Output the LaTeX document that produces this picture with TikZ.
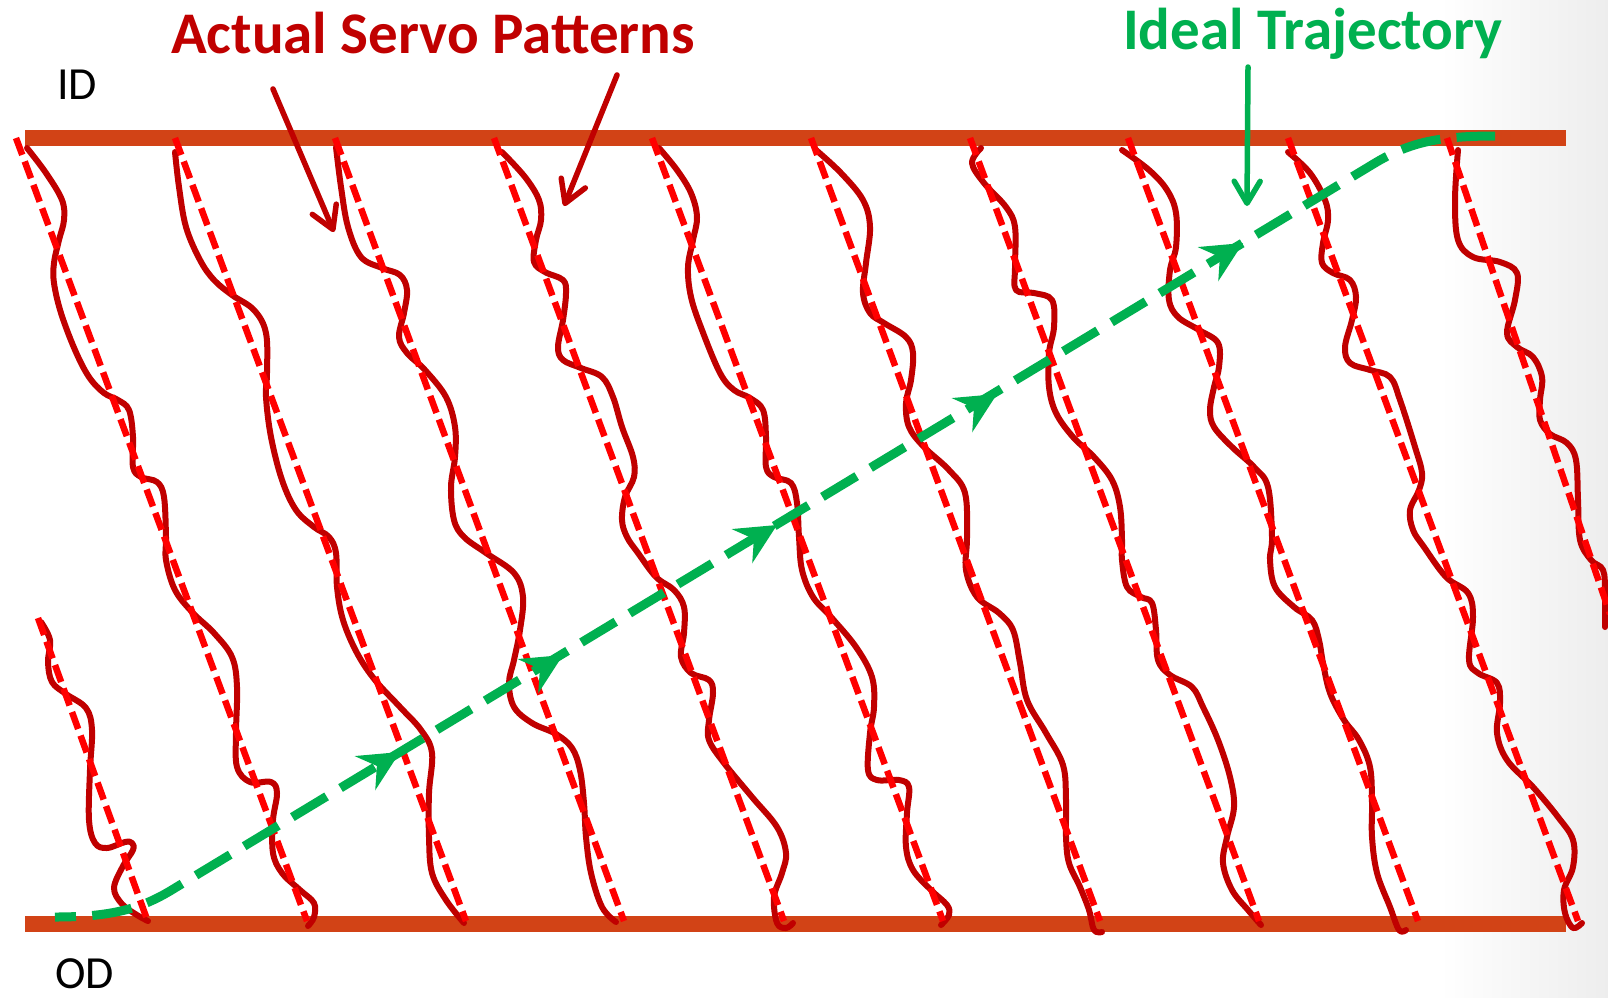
\documentclass[tikz,border=0pt]{standalone}
\usepackage{fontspec}
\setmainfont{Carlito}
\usetikzlibrary{arrows.meta,calc}
\definecolor{barc}{RGB}{210,67,22}
\definecolor{wavec}{RGB}{192,0,0}
\definecolor{dashc}{RGB}{255,0,0}
\definecolor{trajc}{RGB}{0,176,80}
\begin{document}
\begin{tikzpicture}[x=1pt,y=-1pt,
  guide/.style={draw=dashc, line width=6.5pt, dash pattern=on 18pt off 7pt},
  wavy/.style={draw=wavec, line width=6pt, line cap=round, line join=round},
  traj/.style={draw=trajc, line width=9pt, dash pattern=on 40pt off 16.3pt, dash phase=19pt},
  callout/.style={line width=5.5pt, line cap=round, -{Straight Barb[length=22pt,width=26pt,round]}},
  lbl/.style={anchor=base west, inner sep=0pt, text depth=0pt}
]
\useasboundingbox (0,0) rectangle (1608,997);
\fill[white] (0,0) rectangle (1608,997);
\shade[left color=white, right color=black!7] (1440,0) rectangle (1608,997);
\begin{scope}
\clip (0,0) rectangle (1608,997);
% bars
\fill[barc] (25,130) rectangle (1566,146);
\fill[barc] (25,916) rectangle (1566,932);
% actual servo patterns (wavy)
\draw[wavy] plot[smooth, tension=0.6] coordinates {(41,622) (50,640) (48,662) (52,682) (66,694) (86,708) (92,730) (90,770) (89,820) (95,843) (107,848) (125,842) (132,843) (133,850) (123,866) (114,888) (122,904) (137,915) (148,921)};
\draw[wavy] plot[smooth, tension=0.6] coordinates {(27,148) (46,173) (62,200) (64,220) (59,240) (54,263) (54,283) (61,313) (75,350) (89,377) (104,393) (118,400) (129,410) (133,437) (133,467) (141,477) (157,482) (164,497) (166,537) (166,560) (175,590) (193,613) (214,633) (232,657) (237,687) (236,733) (237,767) (250,782) (271,782) (277,793) (273,820) (273,853) (282,873) (300,890) (314,903) (314,917) (308,926)};
\draw[wavy] plot[smooth, tension=0.6] coordinates {(175,152) (179,187) (186,227) (200,260) (214,280) (232,295) (254,310) (266,333) (267,373) (266,397) (271,437) (282,480) (296,510) (314,527) (329,537) (336,553) (337,587) (343,620) (357,653) (375,680) (400,707) (421,730) (432,753) (429,793) (429,837) (432,873) (446,900) (464,923)};
\draw[wavy] plot[smooth, tension=0.6] coordinates {(336,147) (341,187) (348,227) (361,257) (382,268) (400,275) (407,290) (404,313) (399,337) (407,353) (425,370) (446,397) (455,427) (455,457) (451,487) (454,520) (464,537) (486,553) (514,573) (523,597) (520,630) (514,660) (509,683) (514,707) (532,723) (556,734) (572,748) (580,770) (584,803) (586,837) (591,873) (602,907) (616,922)};
\draw[wavy] plot[smooth, tension=0.6] coordinates {(502,152) (525,177) (539,200) (541,220) (536,240) (534,262) (545,272) (563,280) (566,293) (563,320) (558,347) (563,360) (581,368) (602,377) (613,397) (622,427) (633,457) (634,477) (625,497) (622,520) (627,537) (638,553) (656,577) (674,590) (684,607) (684,633) (681,657) (691,673) (709,680) (713,693) (709,720) (709,740) (724,763) (752,797) (777,827) (786,853) (782,873) (774,897) (777,923) (786,928) (793,923)};
\draw[wavy] plot[smooth, tension=0.6] coordinates {(659,148) (677,170) (691,193) (697,217) (693,240) (688,267) (691,297) (702,330) (720,373) (734,390) (750,398) (763,410) (766,437) (766,467) (774,477) (791,483) (797,503) (799,537) (802,570) (813,597) (831,617) (856,647) (872,677) (874,707) (870,733) (868,770) (877,780) (899,780) (909,787) (907,813) (906,847) (913,870) (931,890) (947,905) (949,915) (941,925)};
\draw[wavy] plot[smooth, tension=0.6] coordinates {(816,150) (841,173) (863,200) (870,227) (866,263) (863,293) (870,313) (884,323) (906,337) (913,353) (911,380) (906,403) (909,427) (924,447) (949,470) (965,493) (967,537) (966,570) (977,597) (999,613) (1013,630) (1020,663) (1027,700) (1046,733) (1063,765) (1066,800) (1066,837) (1069,863) (1080,887) (1089,910) (1094,930) (1102,932)};
\draw[wavy] plot[smooth, tension=0.6] coordinates {(981,148) (972,163) (984,183) (1006,207) (1015,227) (1015,267) (1016,290) (1034,293) (1052,300) (1054,327) (1049,353) (1049,387) (1056,413) (1073,437) (1094,457) (1112,480) (1120,507) (1122,540) (1122,560) (1127,587) (1141,597) (1152,603) (1156,630) (1158,660) (1170,675) (1192,687) (1203,707) (1218,740) (1230,777) (1234,807) (1227,837) (1223,863) (1232,890) (1248,910) (1261,925)};
\draw[wavy] plot[smooth, tension=0.6] coordinates {(1122,150) (1149,170) (1167,190) (1176,213) (1176,247) (1170,270) (1169,300) (1178,317) (1199,330) (1218,343) (1219,367) (1214,387) (1210,410) (1214,427) (1232,447) (1254,467) (1268,487) (1272,537) (1270,560) (1275,587) (1294,607) (1312,620) (1319,640) (1323,663) (1330,693) (1344,720) (1359,740) (1370,767) (1372,803) (1372,837) (1377,873) (1390,907) (1399,930) (1406,930)};
\draw[wavy] plot[smooth, tension=0.6] coordinates {(1288,152) (1310,173) (1325,200) (1328,220) (1323,243) (1322,263) (1333,273) (1350,280) (1356,297) (1352,320) (1345,347) (1350,363) (1370,370) (1390,377) (1400,400) (1415,447) (1422,473) (1419,490) (1410,510) (1413,530) (1424,547) (1446,577) (1468,593) (1473,617) (1469,660) (1478,673) (1497,683) (1500,703) (1497,733) (1507,760) (1533,787) (1558,817) (1573,840) (1573,867) (1564,890) (1565,913) (1573,928) (1582,923)};
\draw[wavy] plot[smooth, tension=0.6] coordinates {(1458,150) (1455,200) (1458,240) (1473,257) (1500,262) (1517,273) (1515,300) (1507,333) (1517,347) (1533,357) (1542,377) (1540,400) (1540,420) (1550,434) (1567,443) (1576,460) (1578,500) (1580,540) (1591,560) (1603,570) (1605,593) (1605,627)};
% ideal straight patterns (dashed)
\coordinate (g0a) at (38,618);   \coordinate (g0b) at (148,922);
\coordinate (g1a) at (16,138);   \coordinate (g1b) at (307,921);
\coordinate (g2a) at (175,138);  \coordinate (g2b) at (466,921);
\coordinate (g3a) at (335,138);  \coordinate (g3b) at (624,921);
\coordinate (g4a) at (494,138);  \coordinate (g4b) at (784,921);
\coordinate (g5a) at (652,138);  \coordinate (g5b) at (943,921);
\coordinate (g6a) at (811,138);  \coordinate (g6b) at (1100,921);
\coordinate (g7a) at (970,138);  \coordinate (g7b) at (1259,921);
\coordinate (g8a) at (1128,138); \coordinate (g8b) at (1418,921);
\coordinate (g9a) at (1288,138); \coordinate (g9b) at (1578,921);
\coordinate (g10a) at (1447,138); \coordinate (g10b) at (1610,614);
\foreach \i in {0,...,10} \draw[guide] (g\i a) -- (g\i b);
% ideal trajectory
\coordinate (ts) at (55,917);
\coordinate (te) at (1495,136);
\draw[traj] (ts) .. controls (110,917) and (140,909) .. (170,891) -- (1375,163) .. controls (1410,142) and (1440,136) .. (te);
\foreach \t in {(400,752),(563,655),(777,525),(997,394),(1243,243)}
  \fill[trajc, shift={\t}, rotate=31.1] (0,0) -- (-41,-20) -- (-27,0) -- (-41,20) -- cycle;
\end{scope}
% labels
\node[lbl, font=\bfseries\fontsize{59}{64}\selectfont, text=wavec] (asp) at (171,53) {Actual Servo Patterns};
\node[lbl, font=\bfseries\fontsize{59}{64}\selectfont, text=trajc] (itr) at (1123,49) {Ideal Trajectory};
\node[lbl, font=\fontsize{46}{50}\selectfont] (id) at (57,99) {ID};
\node[lbl, font=\fontsize{46}{50}\selectfont] (od) at (55,988) {OD};
% callout arrows
\coordinate (a1s) at (273,89);   \coordinate (a1e) at (334,232);
\coordinate (a2s) at (617,75);   \coordinate (a2e) at (564,206);
\coordinate (a3s) at (1248,67);  \coordinate (a3e) at (1247,206);
\draw[callout, wavec] (a1s) -- (a1e);
\draw[callout, wavec] (a2s) -- (a2e);
\draw[callout, trajc] (a3s) -- (a3e);
\end{tikzpicture}
\end{document}
